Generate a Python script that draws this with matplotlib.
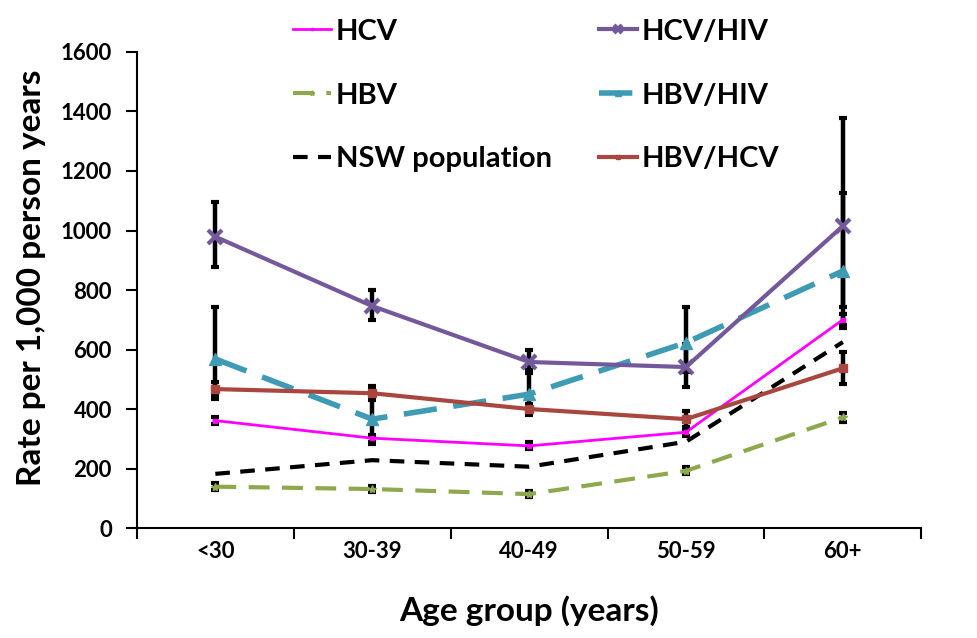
import numpy as np
import matplotlib.pyplot as plt
from matplotlib.ticker import FixedLocator, NullFormatter

plt.rcParams['font.family'] = ['Lato', 'DejaVu Sans']
plt.rcParams['font.weight'] = 'bold'

# age groups
groups = ['<30', '30-39', '40-49', '50-59', '60+']

# rates per 1,000 person years
hcv = [361, 302, 276, 322, 700]
hcv_lo = [349, 290, 264, 310, 682]
hcv_hi = [373, 314, 288, 334, 720]

hcv_hiv = [979, 746, 558, 541, 1015]
hcv_hiv_lo = [877, 699, 521, 474, 744]
hcv_hiv_hi = [1095, 800, 598, 617, 1378]

hbv = [139, 131, 114, 192, 372]
hbv_lo = [129, 121, 103, 181, 358]
hbv_hi = [150, 142, 126, 204, 387]

hbv_hiv = [568, 366, 450, 623, 864]
hbv_hiv_lo = [434, 283, 380, 523, 672]
hbv_hiv_hi = [744, 474, 532, 743, 1126]

nsw = [182, 228, 206, 290, 625]

hbv_hcv = [467, 453, 400, 366, 537]
hbv_hcv_lo = [443, 430, 385, 341, 484]
hbv_hcv_hi = [492, 476, 416, 393, 591]

x = np.arange(len(groups))

fig = plt.figure(figsize=(9.78, 6.38), dpi=100)
ax = fig.add_axes([0.140, 0.1724, 0.802, 0.7461])


def ebar(vals, lo, hi):
    v = np.array(vals)
    yerr = [v - np.array(lo), np.array(hi) - v]
    ax.errorbar(x, v, yerr=yerr, fmt='none', ecolor='black', elinewidth=3.2,
                capsize=3, capthick=3, zorder=2)


ebar(hcv_hiv, hcv_hiv_lo, hcv_hiv_hi)
ebar(hbv_hiv, hbv_hiv_lo, hbv_hiv_hi)
ebar(hbv_hcv, hbv_hcv_lo, hbv_hcv_hi)
ebar(hcv, hcv_lo, hcv_hi)
ebar(hbv, hbv_lo, hbv_hi)

l_hcv, = ax.plot(x, hcv, color='#FF00FF', lw=2, marker='s', ms=3.5, label='HCV', zorder=4)
l_hbv, = ax.plot(x, hbv, color='#8EA84E', lw=3, ls=(0, (5, 3)), marker='*', ms=6,
                 label='HBV', zorder=3)
l_nsw, = ax.plot(x, nsw, color='black', lw=3, ls=(0, (3.5, 2.5)), label='NSW population', zorder=3)
l_hcvhiv, = ax.plot(x, hcv_hiv, color='#73589B', lw=3, marker='x', ms=10, mew=3,
                    label='HCV/HIV', zorder=4)
l_hbvhiv, = ax.plot(x, hbv_hiv, color='#3F9BB3', lw=4, ls=(0, (6, 3)), marker='^', ms=8,
                    label='HBV/HIV', zorder=3)
l_hbvhcv, = ax.plot(x, hbv_hcv, color='#A8463F', lw=3, marker='s', ms=6,
                    label='HBV/HCV', zorder=4)

ax.set_xlim(-0.5, 4.5)
ax.set_ylim(0, 1600)
ax.set_yticks(np.arange(0, 1601, 200))
ax.xaxis.set_major_locator(FixedLocator(np.arange(-0.5, 4.6, 1)))
ax.xaxis.set_major_formatter(NullFormatter())
ax.xaxis.set_minor_locator(FixedLocator(x))
ax.set_xticklabels(groups, minor=True)
ax.tick_params(axis='x', which='major', length=8, width=1.5, direction='out')
ax.tick_params(axis='x', which='minor', length=0, pad=9, labelsize=16)
ax.tick_params(axis='y', length=8, width=1.5, direction='out', pad=10, labelsize=16)

for s in ['top', 'right']:
    ax.spines[s].set_visible(False)
for s in ['left', 'bottom']:
    ax.spines[s].set_linewidth(1.5)

ax.set_xlabel('Age group (years)', fontsize=24, fontweight='bold', labelpad=24)
ax.set_ylabel('Rate per 1,000 person years', fontsize=24, fontweight='bold')
ax.yaxis.set_label_coords(-0.116, 0.525)

handles = [l_hcv, l_hbv, l_nsw, l_hcvhiv, l_hbvhiv, l_hbvhcv]
leg = fig.legend(handles=handles, ncol=2, loc='upper left', bbox_to_anchor=(0.273, 1.012),
                 frameon=False, fontsize=21, handlelength=1.3, handletextpad=0.17,
                 labelspacing=1.3, columnspacing=1.6, markerscale=0.6)
for t in leg.get_texts():
    t.set_fontweight('bold')

fig.savefig('out.png', dpi=100)
